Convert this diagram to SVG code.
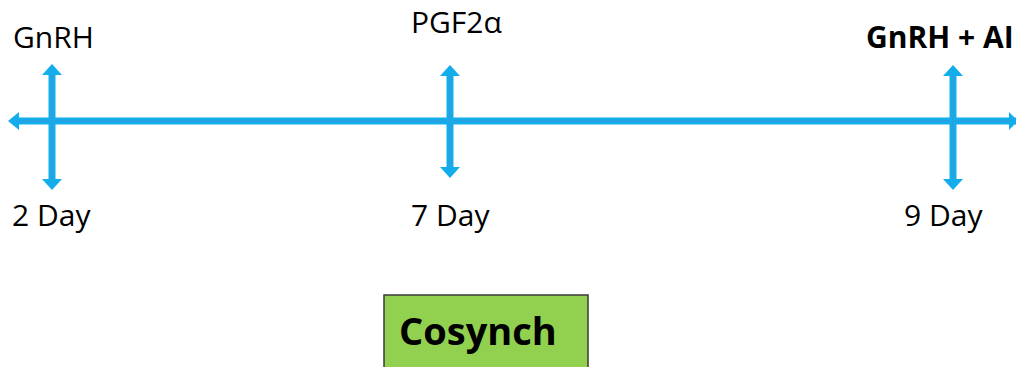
<svg xmlns="http://www.w3.org/2000/svg" width="1016" height="367" viewBox="0 0 1016 367">
  <style>
    .shaft { stroke: #14ADEC; stroke-width: 7; fill: none; }
    .core { stroke: #4F8FCB; stroke-width: 1.2; fill: none; opacity: 0.7; }
    .head { fill: #14ADEC; }
    .lbl { font-family: "Open Sans", "Liberation Sans", sans-serif; font-size: 30px; fill: #000; }
    .bold { font-weight: bold; }
  </style>
  <rect width="1016" height="367" fill="#fff"/>

  <g id="connectors">
    <!-- timeline -->
    <line class="shaft" x1="16" y1="121" x2="1016" y2="121"/>
    <line class="core" x1="18" y1="121" x2="1016" y2="121"/>
    <polygon class="head" points="8,121 19,112 19,130"/>
    <polygon class="head" points="1018,121 1009,112 1009,130"/>

    <!-- day 2 marker -->
    <line class="shaft" x1="52" y1="72" x2="52" y2="182"/>
    <line class="core" x1="52" y1="74" x2="52" y2="180"/>
    <polygon class="head" points="52,64 42,75 62,75"/>
    <polygon class="head" points="52,190 42,179 62,179"/>

    <!-- day 7 marker -->
    <line class="shaft" x1="450" y1="73" x2="450" y2="170"/>
    <line class="core" x1="450" y1="75" x2="450" y2="168"/>
    <polygon class="head" points="450,65 440,76 460,76"/>
    <polygon class="head" points="450,178 440,167 460,167"/>

    <!-- day 9 marker -->
    <line class="shaft" x1="953" y1="73" x2="953" y2="182"/>
    <line class="core" x1="953" y1="75" x2="953" y2="180"/>
    <polygon class="head" points="953,65 943,76 963,76"/>
    <polygon class="head" points="953,190 943,179 963,179"/>
  </g>

  <g id="day2">
    <text class="lbl" x="13" y="48">GnRH</text>
    <text class="lbl" x="12" y="226">2 Day</text>
  </g>

  <g id="day7">
    <text class="lbl" x="411" y="33">PGF2α</text>
    <text class="lbl" x="411" y="226">7 Day</text>
  </g>

  <g id="day9">
    <text class="lbl bold" x="866" y="48">GnRH + AI</text>
    <text class="lbl" x="904" y="226">9 Day</text>
  </g>

  <g id="cosynch">
    <rect x="384" y="295" width="204" height="80" fill="#92D050" stroke="#3A3A3A" stroke-width="1.5"/>
    <text class="lbl bold" x="399" y="345" style="font-size:38px">Cosynch</text>
  </g>
</svg>
